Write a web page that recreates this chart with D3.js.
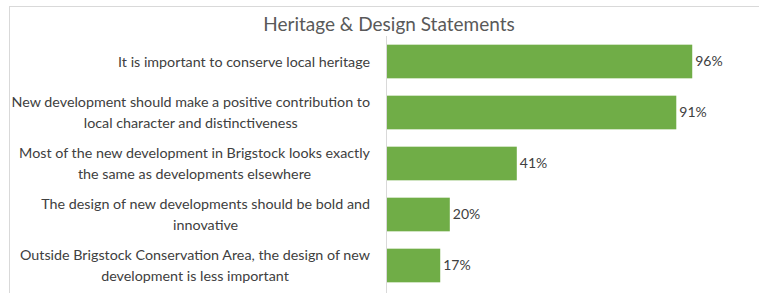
<!DOCTYPE html>
<html>
<head>
<meta charset="utf-8">
<script src="https://cdn.jsdelivr.net/npm/d3@7"></script>
<style>
  body { margin: 0; background: #fff; }
  svg { display: block; font-family: Lato, "Open Sans", sans-serif; }
</style>
</head>
<body>
<div class="chart"></div>
<script>
const title = 'Heritage & Design Statements';

// statement labels, already split where the reference wraps them
const statements = [
  ['It is important to conserve local heritage'],
  ['New development should make a positive contribution to', 'local character and distinctiveness'],
  ['Most of the new development in Brigstock looks exactly', 'the same as developments elsewhere'],
  ['The design of new developments should be bold and', 'innovative'],
  ['Outside Brigstock Conservation Area, the design of new', 'development is less important']
];
const agree = [0.96, 0.91, 0.41, 0.20, 0.17];

const width = 759, height = 293;
const margin = { top: 36, left: 386, bottom: 2 };
const plotW = 319;

const svg = d3.select('.chart')
  .append('svg')
  .attr('width', width)
  .attr('height', height);

// chart frame (only top and left edges fall inside the window)
svg.append('rect')
  .attr('x', 9.5).attr('y', 6.5)
  .attr('width', 800).attr('height', 400)
  .attr('fill', 'none')
  .attr('stroke', '#d9d9d9');

svg.append('text')
  .attr('x', 389).attr('y', 31)
  .attr('text-anchor', 'middle')
  .attr('fill', '#595959')
  .attr('font-size', 19)
  .text(title);

const y = d3.scaleBand()
  .domain(d3.range(agree.length))
  .range([margin.top, margin.top + 51 * agree.length])
  .paddingInner(0.34)
  .paddingOuter(0.17);

const x = d3.scaleLinear()
  .domain([0, 1])
  .range([margin.left, margin.left + plotW]);

svg.append('g')
  .selectAll('rect')
  .data(agree)
  .enter()
  .append('rect')
  .attr('x', x(0))
  .attr('y', (d, i) => y(i))
  .attr('width', (d) => x(d) - x(0))
  .attr('height', y.bandwidth())
  .attr('fill', '#70ad47');

svg.append('line')
  .attr('x1', x(0) + 0.5).attr('x2', x(0) + 0.5)
  .attr('y1', margin.top).attr('y2', height)
  .attr('stroke', '#d9d9d9');

svg.append('g')
  .selectAll('text')
  .data(agree)
  .enter()
  .append('text')
  .attr('x', (d) => x(d) + 3)
  .attr('y', (d, i) => y(i) + y.bandwidth() / 2)
  .attr('dy', '0.35em')
  .attr('fill', '#404040')
  .attr('font-size', 14)
  .text((d) => d3.format('.0%')(d));

// category labels: lines centred on each other, block right-aligned at axis
const labelRight = 370;
const lineH = 21;
const labels = svg.append('g');
statements.forEach((lines, i) => {
  const g = labels.append('g');
  const cy = y(i) + y.bandwidth() / 2;
  const texts = lines.map((t, j) => g.append('text')
    .attr('y', cy + (j - (lines.length - 1) / 2) * lineH)
    .attr('dy', '0.35em')
    .attr('fill', '#404040')
    .attr('font-size', 14.3)
    .attr('text-anchor', 'middle')
    .text(t));
  const maxW = d3.max(texts, (t) => t.node().getComputedTextLength());
  texts.forEach((t) => t.attr('x', labelRight - maxW / 2));
});
</script>
</body>
</html>
